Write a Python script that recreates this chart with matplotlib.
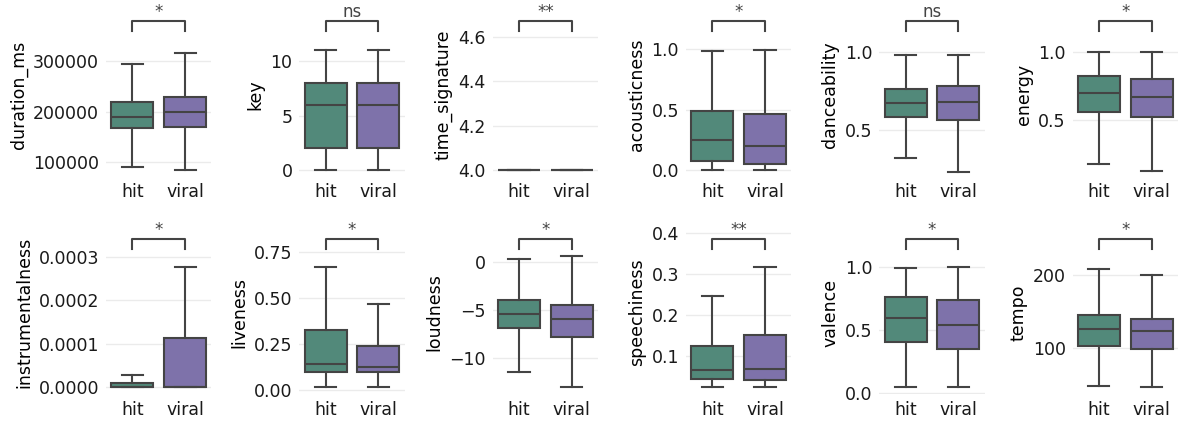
import matplotlib
matplotlib.use("Agg")
from matplotlib import pyplot as plt

# box stats per feature: [hit, viral], each (whislo, q1, med, q3, whishi)
features = ["duration_ms", "key", "time_signature", "acousticness", "danceability", "energy",
            "instrumentalness", "liveness", "loudness", "speechiness", "valence", "tempo"]
groups = ["hit", "viral"]

hit_stats = [
    (91000, 168000, 190000, 218000, 294000),
    (0, 2, 6, 8, 11),
    (4, 4, 4, 4, 4),
    (0.0, 0.075, 0.25, 0.49, 0.986),
    (0.32, 0.585, 0.675, 0.76, 0.98),
    (0.18, 0.56, 0.70, 0.82, 1.0),
    (0.0, 0.0, 0.0000005, 0.00001, 0.0000277),
    (0.015, 0.096, 0.141, 0.326, 0.67),
    (-11.4, -6.9, -5.4, -4.0, 0.28),
    (0.024, 0.042, 0.065, 0.124, 0.246),
    (0.043, 0.40, 0.593, 0.76, 0.987),
    (48.6, 103.6, 126.3, 145.4, 207.7),
]
viral_stats = [
    (85000, 170000, 199000, 229000, 316000),
    (0, 2, 6, 8, 11),
    (4, 4, 4, 4, 4),
    (0.0, 0.05, 0.2, 0.46, 0.997),
    (0.23, 0.565, 0.68, 0.78, 0.98),
    (0.13, 0.525, 0.67, 0.80, 1.0),
    (0.0, 0.0, 0.0, 0.000112, 0.000278),
    (0.015, 0.096, 0.127, 0.24, 0.466),
    (-13.0, -7.8, -5.9, -4.5, 0.62),
    (0.024, 0.04, 0.067, 0.151, 0.317),
    (0.043, 0.349, 0.54, 0.735, 0.997),
    (46.8, 99, 123.6, 140, 200),
]
signif = ["*", "ns", "**", "*", "ns", "*", "*", "*", "*", "**", "*", "*"]

yticks = [
    [100000, 200000, 300000],
    [0, 5, 10],
    [4.0, 4.2, 4.4, 4.6],
    [0.0, 0.5, 1.0],
    [0.5, 1.0],
    [0.5, 1.0],
    [0.0, 0.0001, 0.0002, 0.0003],
    [0.0, 0.25, 0.5, 0.75],
    [-10, -5, 0],
    [0.1, 0.2, 0.3, 0.4],
    [0.0, 0.5, 1.0],
    [100, 200],
]
ylims = [
    (72300, 395000), (-0.55, 14.4), (3.973, 4.708), (-0.05, 1.30),
    (0.205, 1.25), (0.09, 1.283), (-0.0000162, 0.00036), (-0.022, 0.863),
    (-13.7, 3.2), (0.006, 0.406), (-0.012, 1.284), (37.7, 260),
]

colors = ["#52897a", "#7e72aa"]
line_c = "#444444"

plt.rcParams["font.family"] = "DejaVu Sans"
plt.rcParams["font.size"] = 12.5

fig, axes = plt.subplots(2, 6, figsize=(11.78, 4.21), dpi=100)
fig.subplots_adjust(left=0.09, right=1.0, top=0.969, bottom=0.064, wspace=0.834, hspace=0.337)

for i, ax in enumerate(axes.flat):
    stats = []
    for g, s in zip(groups, [hit_stats[i], viral_stats[i]]):
        lo, q1, med, q3, hi = s
        stats.append(dict(label=g, whislo=lo, q1=q1, med=med, q3=q3, whishi=hi, fliers=[]))
    bp = ax.bxp(stats, positions=[0, 1], widths=0.8, patch_artist=True, showfliers=False,
                boxprops=dict(linewidth=1.5, edgecolor=line_c),
                whiskerprops=dict(linewidth=1.5, color=line_c),
                capprops=dict(linewidth=1.5, color=line_c),
                medianprops=dict(linewidth=1.5, color=line_c))
    for patch, c in zip(bp["boxes"], colors):
        patch.set_facecolor(c)

    ax.set_xlim(-0.5, 1.5)
    ax.set_ylim(*ylims[i])
    ax.set_yticks(yticks[i])
    ax.set_xticks([0, 1])
    ax.set_xticklabels(groups)
    ax.set_ylabel(features[i])
    ax.tick_params(length=0, pad=5, labelsize=12.5, colors="#1a1a1a")
    ax.yaxis.grid(True, color="#ebebeb", linewidth=1)
    ax.set_axisbelow(True)
    for sp in ax.spines.values():
        sp.set_visible(False)

    # significance bracket
    tr = ax.get_xaxis_transform()
    ax.plot([0, 0, 1, 1], [0.892, 0.953, 0.953, 0.892], transform=tr,
            color=line_c, linewidth=1.5, clip_on=False)
    ax.annotate(signif[i], xy=(0.5, 0.953), xycoords=tr, xytext=(0, 3),
                textcoords="offset points", ha="center", va="baseline",
                fontsize=12, color=line_c, annotation_clip=False)

fig.savefig("out.png", dpi=100)
